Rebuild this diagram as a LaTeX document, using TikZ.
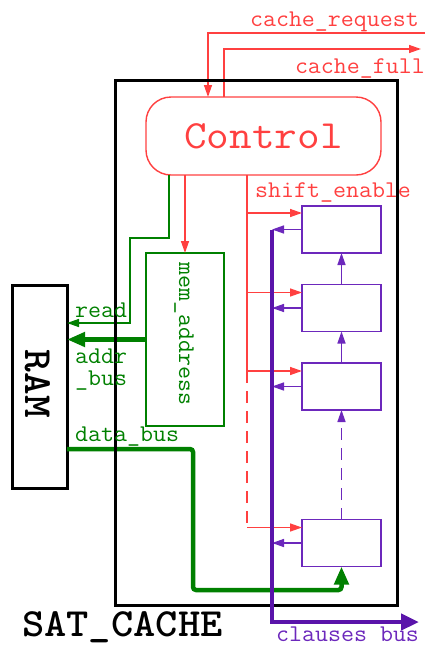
\documentclass[tikz,border=0pt]{standalone}
\usepackage{graphicx}
\usetikzlibrary{arrows.meta}
\definecolor{cred}{RGB}{255,64,64}
\definecolor{cgreen}{RGB}{0,128,0}
\definecolor{cpurple}{RGB}{90,20,170}
\definecolor{cpl}{RGB}{108,40,188}
\newcommand{\stretchtxt}[2]{\scalebox{#1}[1]{#2}}
\tikzset{
  lbl/.style={font=\ttfamily\fontsize{24}{24}\selectfont, inner sep=0pt},
  bigtxt/.style={font=\ttfamily\fontsize{40}{40}\selectfont},
  boldtxt/.style={font=\ttfamily\bfseries\fontsize{40}{40}\selectfont, inner sep=0pt},
  thinln/.style={line width=1.4pt},
  stip/.style={-{Triangle[length=12pt,width=8pt]}},
  bigtip/.style={-{Triangle[length=18pt,width=14pt]}},
  busln/.style={line width=4.5pt},
  regbox/.style={draw=cpl, thinln, minimum width=79pt, minimum height=47pt, inner sep=0pt, outer sep=0pt},
  plainbox/.style={inner sep=0pt, outer sep=0pt},
  dsh/.style={dash pattern=on 12pt off 8pt},
}
\begin{document}
\begin{tikzpicture}[x=1pt,y=-1pt]
\useasboundingbox (0,0) rectangle (425,646);

% boxes
\node[draw, line width=3pt, plainbox, minimum width=55pt, minimum height=203pt] (ram) at (39.5,386.5) {};
\node[boldtxt, rotate=-90] (raml) at (38,384) {\stretchtxt{1.08}{RAM}};
\node[draw=cred, thinln, plainbox, rounded corners=25pt, minimum width=235pt, minimum height=78pt, bigtxt, text=cred] (ctrl) at (263.5,136) {\stretchtxt{1.1}{Control}};
\node[draw=cgreen, thinln, plainbox, minimum width=78pt, minimum height=173pt] (mem) at (185,339.5) {};
\node[lbl, text=cgreen, rotate=-90] (meml) at (184,334) {\stretchtxt{1.05}{mem\_address}};
\node[regbox] (r1) at (341.5,229.5) {};
\node[regbox] (r2) at (341.5,308) {};
\node[regbox] (r3) at (341.5,386.5) {};
\node[regbox] (r4) at (341.5,543) {};

% coordinates
\coordinate (reqin) at (425,33);
\coordinate (reqx) at (208,0);
\coordinate (fullx) at (224,0);
\coordinate (fullout) at (421,49);
\coordinate (rdx) at (169,0);
\coordinate (rdbend) at (130,238);
\coordinate (rdy) at (0,323);
\coordinate (dby) at (0,449);
\coordinate (dbbend) at (193,590);
\coordinate (sx) at (247,0);
\coordinate (e1) at ([yshift=-7pt]r1.north west);
\coordinate (e2) at ([yshift=-8pt]r2.north west);
\coordinate (e3) at ([yshift=-8pt]r3.north west);
\coordinate (e4) at ([yshift=-8pt]r4.north west);
\coordinate (bx) at (272,0);
\coordinate (busout) at (419,622);

% green connectors
\draw[cgreen, thinln, stip] (ctrl.south -| rdx) |- (rdbend) |- (ram.east |- rdy);
\draw[cgreen, busln, bigtip] (mem.west) -- (ram.east |- mem.west);
\draw[cgreen, busln, bigtip, rounded corners=3pt] (ram.east |- dby) -| (dbbend) -| (r4.south);

% red connectors
\draw[cred, thinln, stip] (reqin) -| (ctrl.north -| reqx);
\draw[cred, thinln, stip] (ctrl.north -| fullx) |- (fullout);
\draw[cred, thinln, stip] (ctrl.south -| mem.north) -- (mem.north);
\draw[cred, thinln] (ctrl.south -| sx) -- (sx |- e3);
\draw[cred, thinln, stip] (sx |- e1) -- (e1);
\draw[cred, thinln, stip] (sx |- e2) -- (e2);
\draw[cred, thinln, stip] (sx |- e3) -- (e3);
\draw[cred, thinln, dsh] (sx |- e3) -- (sx |- e4);
\draw[cred, thinln, stip] (sx |- e4) -- (e4);

% SAT_CACHE box
\node[draw, line width=3pt, plainbox, minimum width=282pt, minimum height=525pt] (cache) at (256,342.5) {};

% purple connectors
\draw[cpl, thinln, stip] (r2.north) -- (r1.south);
\draw[cpl, thinln, stip] (r3.north) -- (r2.south);
\draw[cpl, thinln, stip, dsh] (r4.north) -- (r3.south);
\draw[cpl, thinln, stip] (r1.west) -- (r1.west -| bx);
\draw[cpl, thinln, stip] (r2.west) -- (r2.west -| bx);
\draw[cpl, thinln, stip] (r3.west) -- (r3.west -| bx);
\draw[cpl, thinln, stip] (r4.west) -- (r4.west -| bx);
\draw[cpurple, busln, -{Triangle[length=18pt,width=16pt]}] (r1.west -| bx) |- (busout);

% labels
\node[lbl, text=cred, anchor=base east] (reql) at (419,26) {\stretchtxt{1.05}{cache\_request}};
\node[lbl, text=cred, anchor=base east] (fulll) at (425,73) {\stretchtxt{1.05}{cache\_full}};
\node[lbl, text=cred, anchor=base west] (shl) at (255,197) {\stretchtxt{1.05}{shift\_enable}};
\node[lbl, text=cgreen, anchor=base west] (rdl) at (75,317) {\stretchtxt{1.05}{read}};
\node[lbl, text=cgreen, anchor=base west] (adl1) at (75,363) {\stretchtxt{1.05}{addr}};
\node[lbl, text=cgreen, anchor=base west] (adl2) at (75,385) {\stretchtxt{1.05}{\_bus}};
\node[lbl, text=cgreen, anchor=base west] (dbl) at (75,441) {\stretchtxt{1.05}{data\_bus}};
\node[boldtxt, anchor=base west] (satl) at (22,636) {\stretchtxt{1.06}{SAT\_CACHE}};
\node[lbl, text=cpl, anchor=base west] (cbl) at (276,641) {\stretchtxt{1.05}{clauses bus}};
\end{tikzpicture}
\end{document}
